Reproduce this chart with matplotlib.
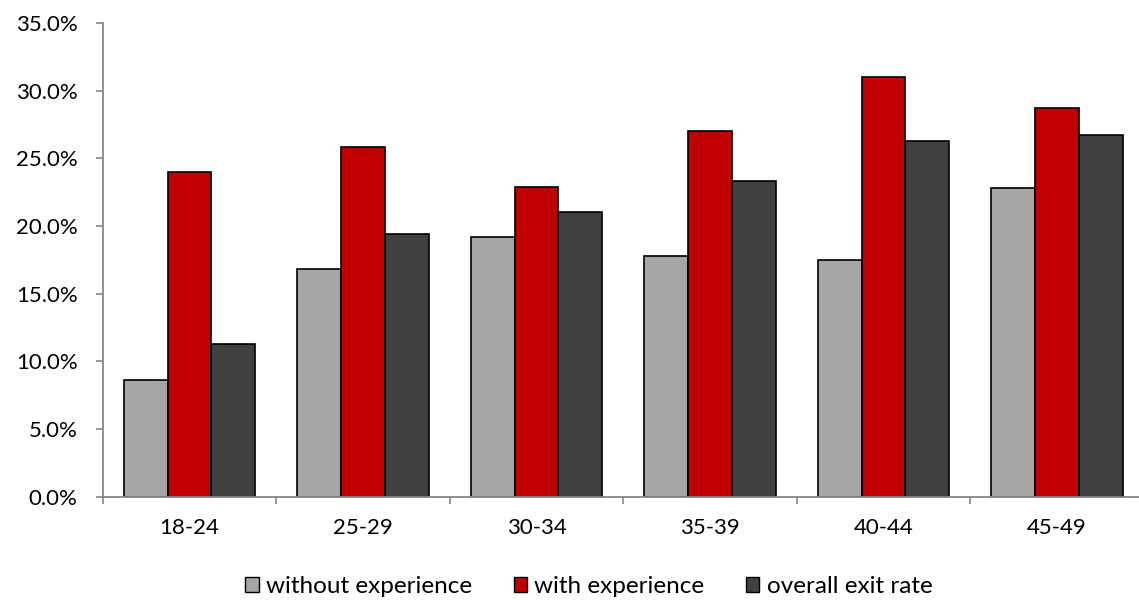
import matplotlib.pyplot as plt
import matplotlib.patches as mpatches
import numpy as np
from matplotlib.ticker import FuncFormatter

# ── data ──────────────────────────────────────────────────────────────────────
AGE_GROUPS = ["18-24", "25-29", "30-34", "35-39", "40-44", "45-49"]
WITHOUT_EXP = [8.6, 16.8, 19.2, 17.8, 17.5, 22.8]
WITH_EXP = [24.0, 25.8, 22.9, 27.0, 31.0, 28.7]
OVERALL = [11.3, 19.4, 21.0, 23.3, 26.3, 26.7]

SERIES = [
    ("without experience", WITHOUT_EXP, "#A6A6A6"),
    ("with experience", WITH_EXP, "#C00000"),
    ("overall exit rate", OVERALL, "#404040"),
]

plt.rcParams["font.family"] = ["Lato", "DejaVu Sans"]
AXIS_GREY = "#868686"
FS = 16
FS_LEGEND = 17.5

fig = plt.figure(figsize=(11.39, 6.0), dpi=100)
# right edge of the category range sits just past the figure edge, as in the original
ax = fig.add_axes([0.0902, 0.172, 0.914, 0.790])

x = np.arange(len(AGE_GROUPS))
width = 0.252
for i, (label, vals, color) in enumerate(SERIES):
    ax.bar(x + (i - 1) * width, vals, width, color=color,
           edgecolor="black", linewidth=1.2, label=label, zorder=2)

ax.set_xlim(-0.5, len(AGE_GROUPS) - 0.5)
ax.set_ylim(0, 35)
ax.set_yticks(np.arange(0, 36, 5))
ax.yaxis.set_major_formatter(FuncFormatter(lambda v, _: f"{v:.1f}%"))

# category boundaries get the tick marks, labels sit at the centres
ax.set_xticks(np.arange(len(AGE_GROUPS) + 1) - 0.5)
ax.set_xticklabels([])
ax.set_xticks(x, minor=True)
ax.set_xticklabels(AGE_GROUPS, minor=True)
ax.tick_params(axis="x", which="minor", length=0, pad=15, labelsize=FS)
ax.tick_params(axis="x", which="major", length=5, color=AXIS_GREY, width=1.2)
ax.tick_params(axis="y", length=5, color=AXIS_GREY, width=1.2, pad=13, labelsize=FS)

for side in ("top", "right"):
    ax.spines[side].set_visible(False)
for side in ("left", "bottom"):
    ax.spines[side].set_color(AXIS_GREY)
    ax.spines[side].set_linewidth(1.3)

handles = [mpatches.Patch(facecolor=c, edgecolor="black", linewidth=1.0, label=l)
           for l, _, c in SERIES]
fig.legend(handles=handles, loc="center", bbox_to_anchor=(0.517, 0.022), ncol=3,
           frameon=False, fontsize=FS_LEGEND, handlelength=0.56, handleheight=0.56,
           handletextpad=0.3, columnspacing=1.7, borderpad=0.2)

fig.savefig("out.png", dpi=100, facecolor="white")
